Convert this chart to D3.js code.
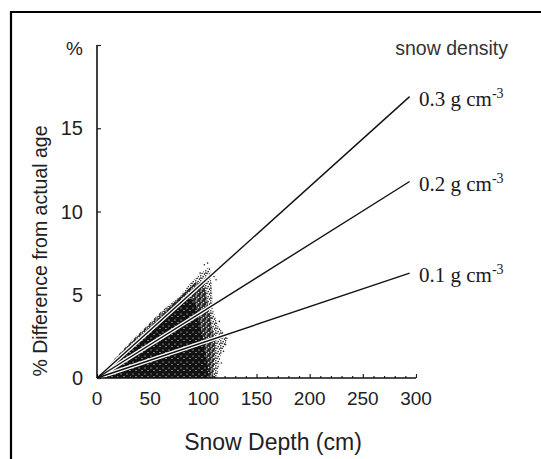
<!DOCTYPE html>
<html>
<head>
<meta charset="utf-8">
<script src="https://cdn.jsdelivr.net/npm/d3@7"></script>
<style>
  html, body { margin: 0; padding: 0; background: #fff; }
  svg { display: block; }
</style>
</head>
<body>
<svg id="chart" width="541" height="459"></svg>
<script>
// ---- data ----
const xTicks = [0, 50, 100, 150, 200, 250, 300];
const xMinorTicks = [10,20,30,40,60,70,80,90,110,120,130,140,160,170,180,190,210,220,230,240,260,270,280,290];
const yTicks = [0, 5, 10, 15];
const yTopTick = 20;
const densityLabels = ["0.3", "0.2", "0.1"];
const lineDepth = [0, 294];
const line03 = [0, 16.9];
const line02 = [0, 11.8];
const line01 = [0, 6.3];
// scatter cloud envelopes (depth cm, % difference)
const cloudOuter = [[0,0],[30,2.1],[60,4.0],[78,4.9],[88,5.7],[100,6.4],[106,6.7],[108,5.5],[109,4.1],[114,3.1],[123,2.4],[116,1.3],[113,0]];
const cloudMid = [[0,0],[30,2.0],[60,3.85],[80,5.0],[92,5.7],[100,5.8],[104,4.6],[107,3.4],[111,2.2],[110,0.8],[109,0]];
const cloudCore = [[0,0],[20,1.25],[40,2.45],[60,3.6],[75,4.5],[86,5.0],[93,4.4],[97,3.2],[101,1.9],[104,0.8],[105,0]];
const strayX = [112,118,121,104,110,125,108,101,115,119,97,105,117,113];
const strayY = [5.9,2.7,2.0,6.9,6.1,2.6,3.6,6.8,3.4,1.6,6.3,0.4,0.9,4.6];

const svg = d3.select("#chart");
const x = d3.scaleLinear().domain([0, 300]).range([97, 416]);
const y = d3.scaleLinear().domain([0, 20]).range([378, 45]);

// frame
svg.append("path").attr("d", "M11,459 V12 H541").attr("fill", "none").attr("stroke", "#000").attr("stroke-width", 2.2);

// patterns
const defs = svg.append("defs");
const pL = defs.append("pattern").attr("id", "pLight").attr("patternUnits", "userSpaceOnUse").attr("width", 5).attr("height", 5);
[[0.8,0.8],[3.2,1.6],[2.0,3.4],[4.4,4.1],[0.6,3.0]].forEach(p => pL.append("circle").attr("cx", p[0]).attr("cy", p[1]).attr("r", 0.8).attr("fill", "#1a1a1a"));
const pM = defs.append("pattern").attr("id", "pMid").attr("patternUnits", "userSpaceOnUse").attr("width", 5).attr("height", 5);
pM.append("rect").attr("width", 5).attr("height", 5).attr("fill", "#262626");
[[1,1],[3.5,2.5],[1.8,4]].forEach(p => pM.append("circle").attr("cx", p[0]).attr("cy", p[1]).attr("r", 0.75).attr("fill", "#fff"));
const pC = defs.append("pattern").attr("id", "pCore").attr("patternUnits", "userSpaceOnUse").attr("width", 6).attr("height", 6);
pC.append("rect").attr("width", 6).attr("height", 6).attr("fill", "#121212");
[[1,2],[4,4.5]].forEach(p => pC.append("circle").attr("cx", p[0]).attr("cy", p[1]).attr("r", 0.6).attr("fill", "#fff"));

const area = d3.line().x(d => x(d[0])).y(d => y(d[1])).curve(d3.curveLinearClosed);
svg.append("path").attr("d", area(cloudOuter)).attr("fill", "url(#pLight)");
svg.append("path").attr("d", area(cloudMid)).attr("fill", "url(#pMid)");
svg.append("path").attr("d", area(cloudCore)).attr("fill", "url(#pCore)");
svg.selectAll("circle.stray").data(strayX).enter().append("circle").attr("class", "stray")
  .attr("cx", (d) => x(d)).attr("cy", (d, i) => y(strayY[i])).attr("r", 0.8).attr("fill", "#222");

// lines with white halo
const ln = d3.line().x((d, i) => x(lineDepth[i])).y(d => y(d));
[line03, line02, line01].forEach(s => {
  svg.append("path").attr("d", ln(s)).attr("fill", "none").attr("stroke", "#fff").attr("stroke-width", 4);
});
[line03, line02, line01].forEach(s => {
  svg.append("path").attr("d", ln(s)).attr("fill", "none").attr("stroke", "#111").attr("stroke-width", 1.4);
});

// axes
const txt = "#222";
const xAxis = svg.append("g").attr("transform", `translate(0,${y(0)})`)
  .call(d3.axisTop(x).tickValues(xTicks).tickSize(4).tickFormat(""));
xAxis.select(".domain").remove();
svg.append("g").attr("transform", `translate(0,${y(0)})`)
  .call(d3.axisTop(x).tickValues(xMinorTicks).tickSize(2).tickFormat("")).select(".domain").remove();
svg.append("line").attr("x1", x(0)).attr("x2", x(300)).attr("y1", y(0)).attr("y2", y(0)).attr("stroke", "#111").attr("stroke-width", 1.6);
svg.selectAll("g.tick line").attr("stroke", "#222").attr("stroke-width", 1.2);
svg.append("g").selectAll("text").data(xTicks).enter().append("text")
  .attr("x", d => x(d)).attr("y", 405).attr("text-anchor", "middle")
  .attr("font-family", "Liberation Sans, Arial, sans-serif").attr("font-size", 19).attr("fill", txt)
  .text(d => d);

const yAxis = svg.append("g").attr("transform", `translate(${x(0)},0)`)
  .call(d3.axisRight(y).tickValues(yTicks.concat([yTopTick])).tickSize(4).tickSizeOuter(0).tickFormat(""));
yAxis.select(".domain").remove();
yAxis.selectAll("line").attr("stroke", "#222").attr("stroke-width", 1.2);
svg.append("line").attr("x1", x(0)).attr("x2", x(0)).attr("y1", y(0)).attr("y2", y(yTopTick)).attr("stroke", "#111").attr("stroke-width", 1.6);
svg.append("g").selectAll("text").data(yTicks).enter().append("text")
  .attr("x", 83).attr("y", d => y(d)).attr("dy", "0.35em").attr("text-anchor", "end")
  .attr("font-family", "Liberation Sans, Arial, sans-serif").attr("font-size", 20).attr("fill", txt)
  .text(d => d);
svg.append("text").attr("x", 83).attr("y", y(yTopTick) + 3).attr("dy", "0.35em").attr("text-anchor", "end")
  .attr("font-family", "Liberation Sans, Arial, sans-serif").attr("font-size", 19).attr("fill", txt).text("%");

// titles
svg.append("text").attr("x", 273).attr("y", 450).attr("text-anchor", "middle")
  .attr("font-family", "Liberation Sans, Arial, sans-serif").attr("font-size", 23).attr("fill", txt)
  .text("Snow Depth (cm)");
svg.append("text").attr("transform", "translate(47,251) rotate(-90)").attr("text-anchor", "middle")
  .attr("font-family", "Liberation Sans, Arial, sans-serif").attr("font-size", 19.5).attr("fill", txt)
  .text("% Difference from actual age");
svg.append("text").attr("x", 508).attr("y", 55).attr("text-anchor", "end")
  .attr("font-family", "Liberation Sans, Arial, sans-serif").attr("font-size", 19.5).attr("fill", "#333")
  .text("snow density");

// density labels
const ends = [line03[1], line02[1], line01[1]];
densityLabels.forEach((lab, i) => {
  const t = svg.append("text").attr("x", 419).attr("y", y(ends[i]) + 9)
    .attr("font-family", "Liberation Serif, Times New Roman, serif").attr("font-size", 21).attr("fill", "#1a1a1a");
  t.append("tspan").text(lab + " g cm");
  t.append("tspan").attr("dy", -8).attr("font-size", 14).text("-3");
});
</script>
</body>
</html>
